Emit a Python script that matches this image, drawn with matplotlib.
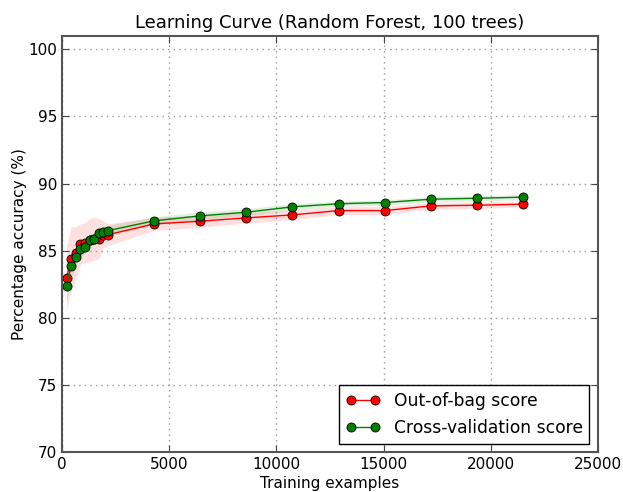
import numpy as np
import matplotlib
matplotlib.use('Agg')
import matplotlib.pyplot as plt

# training set sizes
train_sizes = [215, 430, 645, 860, 1075, 1290, 1505, 1720, 1935, 2150,
               4300, 6450, 8600, 10750, 12900, 15050, 17200, 19350, 21500]

oob_mean = [83.0, 84.4, 84.8, 85.5, 85.6, 85.8, 85.9, 85.9, 86.2, 86.2,
            87.0, 87.2, 87.45, 87.67, 87.99, 87.99, 88.34, 88.39, 88.47]
oob_std = [2.4, 2.4, 2.0, 1.5, 1.5, 1.6, 1.6, 1.5, 1.0, 0.8,
           0.5, 0.45, 0.4, 0.35, 0.3, 0.3, 0.25, 0.25, 0.2]

cv_mean = [82.4, 83.9, 84.5, 85.1, 85.3, 85.8, 85.9, 86.3, 86.4, 86.5,
           87.23, 87.6, 87.87, 88.27, 88.5, 88.59, 88.84, 88.91, 88.99]
cv_std = [1.1, 0.9, 0.7, 0.6, 0.5, 0.45, 0.45, 0.4, 0.4, 0.4,
          0.3, 0.3, 0.25, 0.25, 0.2, 0.2, 0.2, 0.2, 0.2]

x = np.array(train_sizes)
oob_mean = np.array(oob_mean)
oob_std = np.array(oob_std)
cv_mean = np.array(cv_mean)
cv_std = np.array(cv_std)

fig = plt.figure(figsize=(6.23, 4.92), dpi=100)
ax = fig.add_axes([0.0995, 0.081, 0.8604, 0.846])

ax.fill_between(x, oob_mean - oob_std, oob_mean + oob_std, color='r', alpha=0.12, lw=0)
ax.fill_between(x, cv_mean - cv_std, cv_mean + cv_std, color='g', alpha=0.12, lw=0)
ax.plot(x, oob_mean, 'o-', color='r', mec='k', mew=0.6, ms=6.5, lw=1, label='Out-of-bag score')
ax.plot(x, cv_mean, 'o-', color='g', mec='k', mew=0.6, ms=6.5, lw=1, label='Cross-validation score')

ax.set_xlim(0, 25000)
ax.set_ylim(70, 101)
ax.set_xticks([0, 5000, 10000, 15000, 20000, 25000])
ax.set_yticks([70, 75, 80, 85, 90, 95, 100])
ax.grid(True, color='#999999', linestyle=(0, (1, 3)), linewidth=1)
ax.tick_params(direction='in', top=True, right=True, labelsize=11, length=5, color='#444444')
for s in ax.spines.values():
    s.set_color('#555555')
    s.set_linewidth(1.5)

ax.set_title('Learning Curve (Random Forest, 100 trees)', fontsize=13)
ax.set_xlabel('Training examples', fontsize=11, labelpad=3)
ax.set_ylabel('Percentage accuracy (%)', fontsize=11, labelpad=1)

leg = ax.legend(loc='lower right', numpoints=2, fontsize=12.3, fancybox=False,
                framealpha=1, borderaxespad=0.5, handlelength=2.0, borderpad=0.4)
leg.get_frame().set_edgecolor('k')

fig.savefig('out.png', dpi=100, facecolor='white')
